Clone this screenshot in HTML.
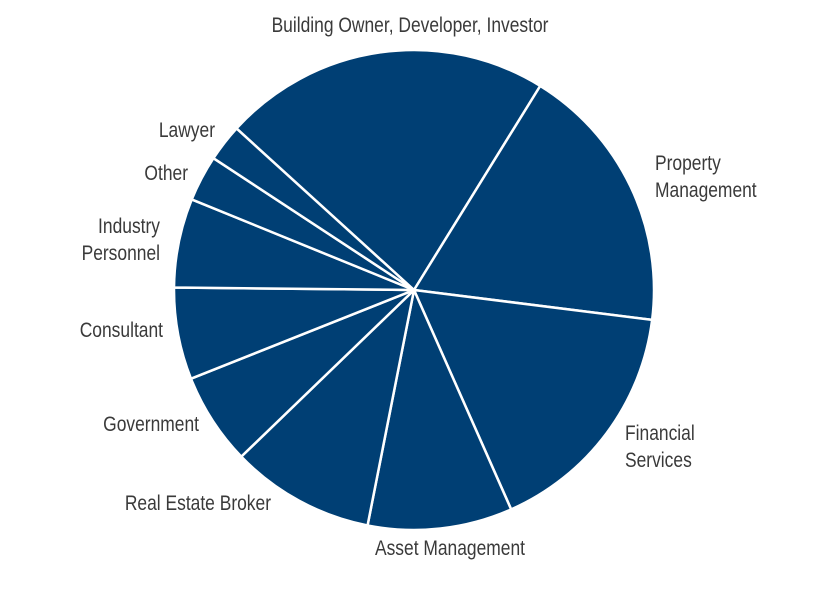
<!DOCTYPE html>
<html><head><meta charset="utf-8"><style>
body{margin:0;background:#fff;}
svg{display:block;}
text{font-family:"Liberation Sans",sans-serif;font-size:21px;fill:#3a3a3a;}
</style></head><body>
<svg id="chart" width="834" height="589" viewBox="0 0 834 589" xmlns="http://www.w3.org/2000/svg">
<g id="slices"></g>
<g id="labels"></g>
</svg>
<script>
const categories = ["Building Owner, Developer, Investor","Property Management","Financial Services","Asset Management","Real Estate Broker","Government","Consultant","Industry Personnel","Other","Lawyer"];
const values = [22.1, 18.2, 16.4, 9.75, 9.7, 6.2, 6.2, 6.0, 3.1, 2.5];
const cx = 414, cy = 290, r = 240, startDeg = 312.3;
const labelPos = [
  {x:410,y:32,a:"middle",lines:["Building Owner, Developer, Investor"]},
  {x:655,y:170,a:"start",lines:["Property","Management"]},
  {x:625,y:440,a:"start",lines:["Financial","Services"]},
  {x:450,y:555,a:"middle",lines:["Asset Management"]},
  {x:271,y:510,a:"end",lines:["Real Estate Broker"]},
  {x:199,y:431,a:"end",lines:["Government"]},
  {x:163,y:337,a:"end",lines:["Consultant"]},
  {x:160,y:233,a:"end",lines:["Industry","Personnel"]},
  {x:188,y:180,a:"end",lines:["Other"]},
  {x:215,y:137,a:"end",lines:["Lawyer"]}
];
const NS = "http://www.w3.org/2000/svg";
const total = values.reduce((a,b)=>a+b,0);
function pt(deg){const t=deg*Math.PI/180;return [cx+r*Math.sin(t), cy-r*Math.cos(t)];}
const gS = document.getElementById("slices");
let a = startDeg;
values.forEach((v,i)=>{
  const sweep = v/total*360;
  const p1 = pt(a), p2 = pt(a+sweep);
  const path = document.createElementNS(NS,"path");
  path.setAttribute("d",`M${cx},${cy} L${p1[0]},${p1[1]} A${r},${r} 0 ${sweep>180?1:0} 1 ${p2[0]},${p2[1]} Z`);
  path.setAttribute("fill","#003f74");
  path.setAttribute("stroke","#fff");
  path.setAttribute("stroke-width","2.5");
  path.setAttribute("stroke-linejoin","round");
  
  
  gS.appendChild(path);
  a += sweep;
});
const gL = document.getElementById("labels");
labelPos.forEach((l,i)=>{
  l.lines.forEach((ln,j)=>{
    const t = document.createElementNS(NS,"text");
    t.setAttribute("transform",`translate(${l.x},${l.y+j*27}) scale(0.83,1)`);
    t.setAttribute("text-anchor",l.a);
    t.textContent = ln;
    
    
    gL.appendChild(t);
  });
});
</script>
</body></html>
